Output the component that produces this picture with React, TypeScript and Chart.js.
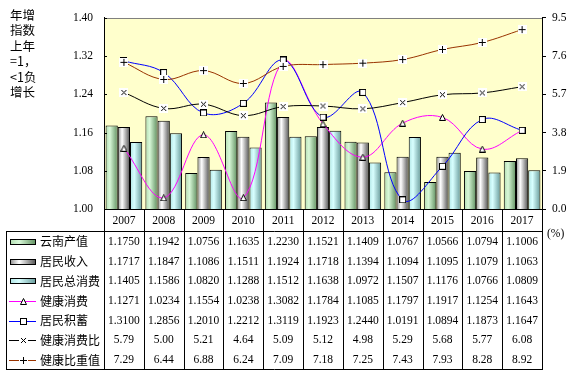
import React, { useEffect, useRef } from "react";
import { Chart, registerables } from "chart.js";

Chart.register(...registerables);

const categories = ["2007", "2008", "2009", "2010", "2011", "2012", "2013", "2014", "2015", "2016", "2017"];
const yunnanOutput = [1.1750, 1.1942, 1.0756, 1.1635, 1.2230, 1.1521, 1.1409, 1.0767, 1.0566, 1.0794, 1.1006];
const residentIncome = [1.1717, 1.1847, 1.1086, 1.1511, 1.1924, 1.1718, 1.1394, 1.1094, 1.1095, 1.1079, 1.1063];
const residentConsumption = [1.1405, 1.1586, 1.0820, 1.1288, 1.1512, 1.1638, 1.0972, 1.1507, 1.1176, 1.0766, 1.0809];
const healthConsumption = [1.1271, 1.0234, 1.1554, 1.0238, 1.3082, 1.1784, 1.1085, 1.1797, 1.1917, 1.1254, 1.1643];
const residentSavings = [1.3100, 1.2856, 1.2010, 1.2212, 1.3119, 1.1923, 1.2440, 1.0191, 1.0894, 1.1873, 1.1647];
const healthRatio = [5.79, 5.00, 5.21, 4.64, 5.09, 5.12, 4.98, 5.29, 5.68, 5.77, 6.08];
const healthWeight = [7.29, 6.44, 6.88, 6.24, 7.09, 7.18, 7.25, 7.43, 7.93, 8.28, 8.92];

const leftTicks = [1.0, 1.08, 1.16, 1.24, 1.32, 1.4];
const rightTicks = [0, 1.9, 3.8, 5.7, 7.6, 9.5];
const titleLines = ["年增", "指数", "上年", "=1，", "<1负", "增长"];
const seriesNames = ["云南产值", "居民收入", "居民总消费", "健康消费", "居民积蓄", "健康消费比", "健康比重值"];
const percentLabel = "(%)";

const CAT_PCT = 0.92;
const NUM_FONT = '11.5px "Liberation Serif", "Times New Roman", serif';
const CJK_FONT = '12px "Noto Sans CJK SC", sans-serif';
const TITLE_FONT = '12.5px "Noto Sans CJK SC", sans-serif';

const barStops = [
  ["#b0dcb0", "#d8f8d8", "#5f8f5f"],
  ["#8c8c8c", "#ffffff", "#505050"],
  ["#b0e4e4", "#d8ffff", "#669999"],
];

function makeMarker(kind: string): HTMLCanvasElement {
  const c = document.createElement("canvas");
  const s = kind === "x" || kind === "plus" ? 9 : 7;
  c.width = s;
  c.height = s;
  const g = c.getContext("2d")!;
  g.lineWidth = 1;
  g.strokeStyle = "#000";
  g.fillStyle = "#fff";
  if (kind === "tri") {
    g.beginPath();
    g.moveTo(3.5, 0.5);
    g.lineTo(6.5, 6.5);
    g.lineTo(0.5, 6.5);
    g.closePath();
    g.fill();
    g.stroke();
  } else if (kind === "sq") {
    g.fillRect(0, 0, 7, 7);
    g.strokeRect(0.5, 0.5, 6, 6);
  } else if (kind === "x") {
    g.fillRect(0, 0, 9, 9);
    g.beginPath();
    g.moveTo(2, 2);
    g.lineTo(7, 7);
    g.moveTo(7, 2);
    g.lineTo(2, 7);
    g.stroke();
  } else {
    g.fillRect(0, 0, 9, 9);
    g.beginPath();
    g.moveTo(4.5, 1);
    g.lineTo(4.5, 8);
    g.moveTo(1, 4.5);
    g.lineTo(8, 4.5);
    g.stroke();
  }
  return c;
}

function makeBarFill(ds: number) {
  return (c: any) => {
    const chart = c.chart;
    const xs = chart.scales && chart.scales.x;
    const st = barStops[ds];
    if (!xs || c.dataIndex === undefined || !isFinite(xs.width) || xs.width <= 0) return st[1];
    const center = xs.getPixelForValue(c.dataIndex);
    const catW = xs.width / categories.length;
    const groupW = catW * CAT_PCT;
    const barW = groupW / 3;
    const left = center - groupW / 2 + ds * barW;
    if (!isFinite(left) || !isFinite(barW) || barW <= 0) return st[1];
    const g = chart.ctx.createLinearGradient(left, 0, left + barW, 0);
    g.addColorStop(0, st[0]);
    g.addColorStop(0.35, st[1]);
    g.addColorStop(1, st[2]);
    return g;
  };
}

export default function App() {
  const ref = useRef<HTMLCanvasElement>(null);

  useEffect(() => {
    const canvas = ref.current!;
    const markers = {
      tri: makeMarker("tri"),
      sq: makeMarker("sq"),
      x: makeMarker("x"),
      plus: makeMarker("plus"),
    };
    const lineColors = ["#ff00ff", "#0000ff", "#000000", "#993300"];
    const lineMarkers = [markers.tri, markers.sq, markers.x, markers.plus];

    const tablePlugin = {
      id: "tablePlugin",
      beforeDraw(chart: any) {
        const { ctx, chartArea: a } = chart;
        ctx.save();
        ctx.fillStyle = "#ffffff";
        ctx.fillRect(0, 0, chart.width, chart.height);
        ctx.fillStyle = "#ffffcc";
        ctx.fillRect(a.left, a.top, a.right - a.left, a.bottom - a.top);
        ctx.restore();
      },
      afterDraw(chart: any) {
        const { ctx, chartArea: a } = chart;
        const xs = chart.scales.x;
        const ys = chart.scales.y;
        const n = categories.length;
        const catW = (a.right - a.left) / n;
        const headerTop = a.bottom;
        const tableTop = 231;
        const tableBottom = 369;
        const tableLeft = 6;
        const rowH = (tableBottom - tableTop) / 7;
        ctx.save();
        ctx.strokeStyle = "#808080";
        ctx.lineWidth = 1;
        ctx.beginPath();
        ctx.moveTo(a.left, Math.round(a.top) + 0.5);
        ctx.lineTo(a.right, Math.round(a.top) + 0.5);
        ctx.stroke();
        ctx.strokeStyle = "#000";
        ctx.beginPath();
        leftTicks.forEach((v) => {
          const y = Math.round(ys.getPixelForValue(v)) + 0.5;
          ctx.moveTo(a.left, y);
          ctx.lineTo(a.left + 3, y);
        });
        ctx.stroke();
        ctx.beginPath();
        ctx.moveTo(a.left, Math.round(headerTop) + 0.5);
        ctx.lineTo(a.right + 1, Math.round(headerTop) + 0.5);
        ctx.moveTo(tableLeft, tableTop + 0.5);
        ctx.lineTo(a.right + 1, tableTop + 0.5);
        ctx.moveTo(tableLeft, tableBottom + 0.5);
        ctx.lineTo(a.right + 1, tableBottom + 0.5);
        ctx.moveTo(tableLeft + 0.5, tableTop);
        ctx.lineTo(tableLeft + 0.5, tableBottom + 1);
        for (let i = 0; i <= n; i++) {
          const x = Math.round(a.left + i * catW) + 0.5;
          ctx.moveTo(x, headerTop);
          ctx.lineTo(x, tableBottom + 1);
        }
        ctx.stroke();
        ctx.fillStyle = "#000";
        ctx.font = NUM_FONT;
        ctx.textAlign = "center";
        ctx.textBaseline = "middle";
        categories.forEach((c, i) => {
          ctx.fillText(c, xs.getPixelForValue(i), (headerTop + tableTop) / 2 + 0.5);
        });
        const rows = [yunnanOutput, residentIncome, residentConsumption, healthConsumption, residentSavings, healthRatio, healthWeight];
        rows.forEach((arr, r) => {
          const yc = tableTop + rowH * (r + 0.5) + 1;
          ctx.font = NUM_FONT;
          ctx.textAlign = "center";
          ctx.fillStyle = "#000";
          arr.forEach((v, i) => {
            ctx.fillText(v.toFixed(r < 5 ? 4 : 2), xs.getPixelForValue(i), yc);
          });
          if (r < 3) {
            const g = ctx.createLinearGradient(10, 0, 36, 0);
            g.addColorStop(0, barStops[r][0]);
            g.addColorStop(0.35, barStops[r][1]);
            g.addColorStop(1, barStops[r][2]);
            ctx.fillStyle = g;
            const top = Math.round(yc - 3);
            ctx.fillRect(10, top, 26, 6);
            ctx.strokeStyle = "#000";
            ctx.strokeRect(10.5, top + 0.5, 25, 5);
          } else {
            const li = r - 3;
            ctx.strokeStyle = lineColors[li];
            ctx.lineWidth = 1;
            const ly = Math.round(yc) + 0.5;
            ctx.beginPath();
            ctx.moveTo(9, ly);
            ctx.lineTo(36, ly);
            ctx.stroke();
            const m = lineMarkers[li];
            ctx.drawImage(m, Math.round(23 - m.width / 2), Math.round(ly - m.height / 2));
          }
          ctx.fillStyle = "#000";
          ctx.font = CJK_FONT;
          ctx.textAlign = "left";
          ctx.fillText(seriesNames[r], 40, yc);
        });
        ctx.font = NUM_FONT;
        ctx.textAlign = "left";
        ctx.fillText(percentLabel, 547, 234);
        ctx.font = TITLE_FONT;
        ctx.textAlign = "left";
        titleLines.forEach((t, i) => {
          ctx.fillText(t, 10, 15 + i * 15.5);
        });
        ctx.restore();
      },
    };

    const lineDs = (label: string, data: number[], color: string, marker: HTMLCanvasElement, axis: string, order: number) => ({
      type: "line",
      label,
      data,
      yAxisID: axis,
      borderColor: color,
      backgroundColor: color,
      borderWidth: 1,
      tension: 0.38,
      pointStyle: marker,
      pointRadius: 4,
      pointHoverRadius: 4,
      fill: false,
      order,
    });

    const barDs = (label: string, data: number[], idx: number) => ({
      type: "bar",
      label,
      data,
      yAxisID: "y",
      backgroundColor: makeBarFill(idx),
      borderColor: "#000",
      borderWidth: 1,
      categoryPercentage: CAT_PCT,
      barPercentage: 1,
      order: 10,
    });

    const chart = new Chart(canvas, {
      type: "bar",
      data: {
        labels: categories,
        datasets: [
          barDs(seriesNames[0], yunnanOutput, 0),
          barDs(seriesNames[1], residentIncome, 1),
          barDs(seriesNames[2], residentConsumption, 2),
          lineDs(seriesNames[3], healthConsumption, lineColors[0], lineMarkers[0], "y", 4),
          lineDs(seriesNames[4], residentSavings, lineColors[1], lineMarkers[1], "y", 3),
          lineDs(seriesNames[5], healthRatio, lineColors[2], lineMarkers[2], "y1", 2),
          lineDs(seriesNames[6], healthWeight, lineColors[3], lineMarkers[3], "y1", 1),
        ] as any,
      },
      options: {
        responsive: false,
        animation: false,
        devicePixelRatio: 1,
        layout: { padding: { top: 16, bottom: 166, left: 0, right: 0 } },
        plugins: {
          legend: { display: false },
          tooltip: { enabled: false },
          title: { display: false },
        },
        scales: {
          x: { type: "category", display: false, offset: true },
          y: {
            type: "linear",
            position: "left",
            min: 1.0,
            max: 1.4,
            grid: { display: false, drawTicks: false },
            border: { display: true, color: "#000", width: 1 },
            afterFit: (s: any) => {
              s.width = 104;
            },
            afterBuildTicks: (s: any) => {
              s.ticks = leftTicks.map((v) => ({ value: v }));
            },
            ticks: {
              padding: 11,
              color: "#000",
              font: { family: '"Liberation Serif", "Times New Roman", serif', size: 11.5 },
              callback: (v: any) => Number(v).toFixed(2),
            },
          },
          y1: {
            type: "linear",
            position: "right",
            min: 0,
            max: 9.5,
            grid: { display: true, drawOnChartArea: false, drawTicks: true, tickLength: 4, color: "#000" },
            border: { display: true, color: "#000", width: 1 },
            afterFit: (s: any) => {
              s.width = 35;
            },
            afterBuildTicks: (s: any) => {
              s.ticks = rightTicks.map((v) => ({ value: v }));
            },
            ticks: {
              padding: 6,
              color: "#000",
              font: { family: '"Liberation Serif", "Times New Roman", serif', size: 11.5 },
              callback: (v: any) => Number(v).toFixed(1),
            },
          },
        },
      } as any,
      plugins: [tablePlugin],
    });
    return () => chart.destroy();
  }, []);

  return (
    <div style={{ position: "absolute", left: 0, top: 0, width: 577, height: 375, background: "#fff" }}>
      <canvas ref={ref} width={577} height={375} style={{ width: 577, height: 375, display: "block" }} />
    </div>
  );
}
